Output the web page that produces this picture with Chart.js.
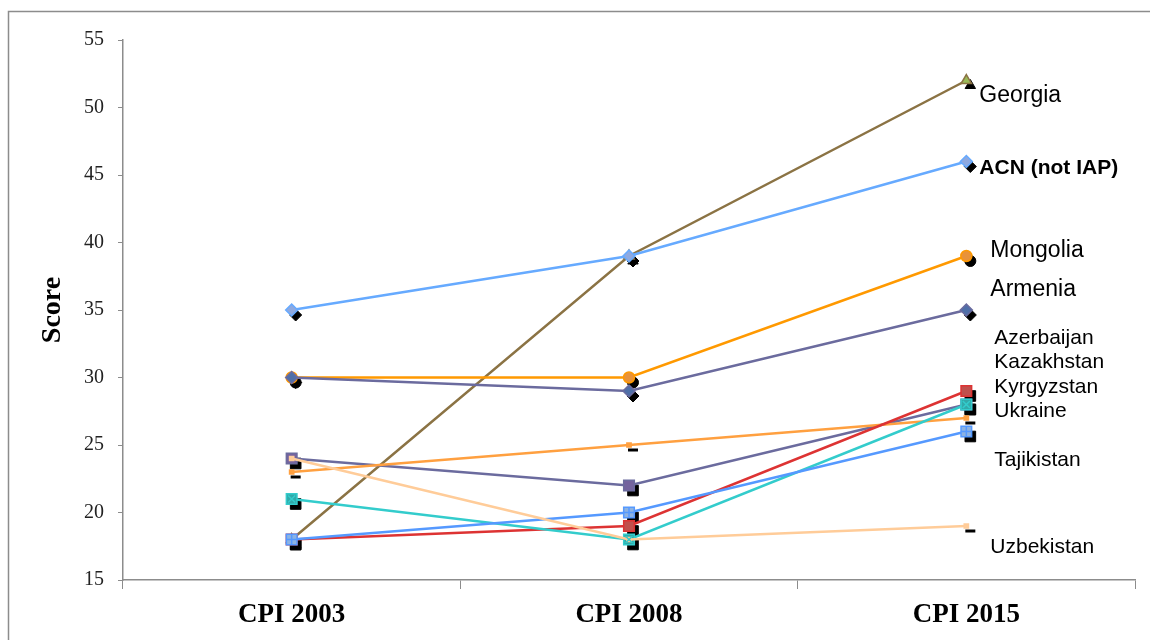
<!DOCTYPE html>
<html>
<head>
<meta charset="utf-8">
<script src="https://cdn.jsdelivr.net/npm/chart.js@4.4.1/dist/chart.umd.min.js"></script>
<style>
  html, body { margin: 0; padding: 0; background: #fff; }
  canvas { display: block; }
</style>
</head>
<body>
<canvas id="cpiChart" width="1150" height="640"></canvas>
<script>
'use strict';

/* --------------------------------------------------------------------------
   DATA — CPI scores per country
   -------------------------------------------------------------------------- */
const categories = ['CPI 2003', 'CPI 2008', 'CPI 2015'];

const georgia    = [18, 39, 52];
const acn        = [35, 39, 46];
const mongolia   = [30, 30, 39];
const armenia    = [30, 29, 35];
const azerbaijan = [24, 22, 28];
const kazakhstan = [23, 25, 27];
const kyrgyzstan = [18, 19, 29];
const ukraine    = [21, 18, 28];
const tajikistan = [18, 20, 26];
const uzbekistan = [24, 18, 19];

const yTicks = [15, 20, 25, 30, 35, 40, 45, 50, 55];

// end-of-line labels (text only; placement is handled below)
const endLabels = ['Georgia', 'ACN (not IAP)', 'Mongolia', 'Armenia', 'Azerbaijan',
                   'Kazakhstan', 'Kyrgyzstan', 'Ukraine', 'Tajikistan', 'Uzbekistan'];

/* --------------------------------------------------------------------------
   LABEL LAYOUT — value height and pixel offset from the last category
   -------------------------------------------------------------------------- */
const labelLayout = [
    { v: 50.9, dx: 13, font: '23px "Liberation Sans", Arial, sans-serif' },
    { v: 45.5, dx: 13, font: 'bold 21px "Liberation Sans", Arial, sans-serif' },
    { v: 39.4, dx: 24, font: '23px "Liberation Sans", Arial, sans-serif' },
    { v: 36.5, dx: 24, font: '23px "Liberation Sans", Arial, sans-serif' },
    { v: 32.9, dx: 28, font: '21px "Liberation Sans", Arial, sans-serif' },
    { v: 31.1, dx: 28, font: '21px "Liberation Sans", Arial, sans-serif' },
    { v: 29.3, dx: 28, font: '21px "Liberation Sans", Arial, sans-serif' },
    { v: 27.5, dx: 28, font: '21px "Liberation Sans", Arial, sans-serif' },
    { v: 23.9, dx: 28, font: '21px "Liberation Sans", Arial, sans-serif' },
    { v: 17.4, dx: 24, font: '21px "Liberation Sans", Arial, sans-serif' },
];

/* --------------------------------------------------------------------------
   HELPERS
   -------------------------------------------------------------------------- */
let seriesCount = 0;
function series(label, data, line, fill, style, radius, shadow, overlay) {
    seriesCount++;
    return {
        label: label,
        data: data,
        order: 20 - seriesCount,   // later series drawn on top, as in Excel
        borderColor: line,
        borderWidth: 2.5,
        tension: 0,
        pointStyle: style,
        pointRadius: radius,
        pointBackgroundColor: fill,
        pointBorderColor: line,
        pointBorderWidth: 1.5,
        shadowStyle: shadow,
        overlayStyle: overlay || null,
    };
}

// black drop-shadow markers, like the Excel original
const markerShadow = {
    id: 'markerShadow',
    beforeDatasetsDraw(chart) {
        const ctx = chart.ctx;
        chart.data.datasets.forEach((ds, i) => {
            const meta = chart.getDatasetMeta(i);
            meta.data.forEach(pt => {
                ctx.save();
                ctx.fillStyle = '#000';
                ctx.strokeStyle = '#000';
                ctx.lineWidth = ds.shadowStyle === 'line' ? 3 : 1;
                const r = ds.shadowStyle === 'line' ? 5 : ds.pointRadius;
                Chart.helpers.drawPoint(ctx, { pointStyle: ds.shadowStyle, radius: r, borderWidth: 1, rotation: 0 }, pt.x + 4, pt.y + 5);
                ctx.restore();
            });
        });
    },
    afterDatasetsDraw(chart) {
        const ctx = chart.ctx;
        chart.data.datasets.forEach((ds, i) => {
            if (!ds.overlayStyle) return;
            chart.getDatasetMeta(i).data.forEach(pt => {
                ctx.save();
                ctx.strokeStyle = ds.borderColor;
                ctx.lineWidth = 1.5;
                Chart.helpers.drawPoint(ctx, { pointStyle: ds.overlayStyle, radius: 5, borderWidth: 1.5, rotation: 0 }, pt.x, pt.y);
                ctx.restore();
            });
        });
    },
};

// outer frame + labels at the right end of each line
const frameAndLabels = {
    id: 'frameAndLabels',
    beforeDraw(chart) {
        const ctx = chart.ctx;
        ctx.save();
        ctx.strokeStyle = '#8c8c8c';
        ctx.lineWidth = 1.5;
        ctx.strokeRect(8.5, 11.5, 1300, 800);
        ctx.restore();
    },
    afterDraw(chart) {
        const ctx = chart.ctx;
        const xs = chart.scales.x, ys = chart.scales.y;
        const x0 = xs.getPixelForValue(categories.length - 1);
        ctx.save();
        ctx.fillStyle = '#000';
        ctx.textAlign = 'left';
        ctx.textBaseline = 'middle';
        endLabels.forEach((txt, i) => {
            const l = labelLayout[i];
            ctx.font = l.font;
            ctx.fillText(txt, x0 + l.dx, ys.getPixelForValue(l.v));
        });
        ctx.restore();
    },
};

/* --------------------------------------------------------------------------
   CHART
   -------------------------------------------------------------------------- */
const ctx = document.getElementById('cpiChart').getContext('2d');
new Chart(ctx, {
    type: 'line',
    data: {
        labels: categories,
        datasets: [
            series('Georgia',       georgia,    '#8b7344', '#9bbb59', 'triangle', 6,   'triangle'),
            series('ACN (not IAP)', acn,        '#66aaff', '#8ea9e0', 'rectRot',  6,   'rectRot'),
            series('Mongolia',      mongolia,   '#ff9900', '#e8923a', 'circle',   5.5, 'circle'),
            series('Armenia',       armenia,    '#6b6b9e', '#4f6fa8', 'rectRot',  6,   'rectRot'),
            series('Azerbaijan',    azerbaijan, '#6b6b9e', '#74639e', 'rect',     7.5, 'rect'),
            series('Kazakhstan',    kazakhstan, '#ffa040', '#ffa040', 'rect',     3,   'line'),
            series('Kyrgyzstan',    kyrgyzstan, '#dd3333', '#c0504d', 'rect',     7.5, 'rect'),
            series('Ukraine',       ukraine,    '#33cccc', '#31aaaa', 'rect',     7.5, 'rect', 'crossRot'),
            series('Tajikistan',    tajikistan, '#5599ff', '#8db3e2', 'rect',     7.5, 'rect', 'cross'),
            series('Uzbekistan',    uzbekistan, '#ffcc99', '#ffcc99', 'rect',     3,   'line'),
        ],
    },
    options: {
        responsive: false,
        animation: false,
        devicePixelRatio: 1,
        layout: { padding: { left: 32, top: 40, right: 15, bottom: 0 } },
        plugins: {
            legend: { display: false },
            tooltip: { enabled: false },
        },
        scales: {
            x: {
                offset: true,
                afterFit: s => { s.height = 60; },
                grid: { offset: true, drawOnChartArea: false, tickLength: 9, color: '#8c8c8c' },
                border: { color: '#8c8c8c', width: 1.5 },
                ticks: {
                    maxRotation: 0,
                    padding: 10,
                    color: '#000',
                    font: { family: '"Liberation Serif", "Times New Roman", serif', size: 27, weight: 'bold' },
                },
            },
            y: {
                min: 15,
                max: 55,
                afterFit: s => { s.width = 91; },
                afterBuildTicks: s => { s.ticks = yTicks.map(v => ({ value: v })); },
                grid: { drawOnChartArea: false, tickLength: 5, color: '#8c8c8c' },
                border: { color: '#8c8c8c', width: 1.5 },
                ticks: {
                    padding: 14,
                    color: '#222',
                    font: { family: '"Liberation Serif", "Times New Roman", serif', size: 20 },
                },
                title: {
                    display: true,
                    text: 'Score',
                    color: '#000',
                    font: { family: '"Liberation Serif", "Times New Roman", serif', size: 28, weight: 'bold' },
                },
            },
        },
    },
    plugins: [markerShadow, frameAndLabels],
});
</script>
</body>
</html>
